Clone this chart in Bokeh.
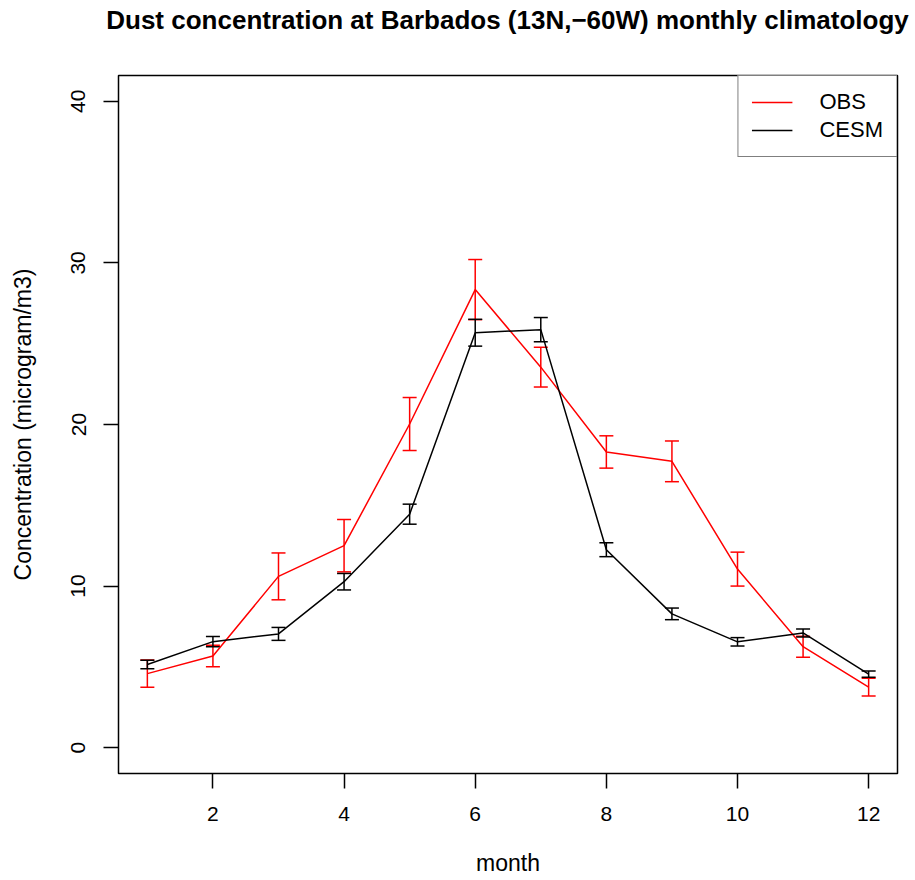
from bokeh.plotting import figure
from bokeh.layouts import column
from bokeh.models import (ColumnDataSource, Whisker, TeeHead, Legend, LegendItem,
                          Range1d, FixedTicker, Div)
from bokeh.embed import file_html
from bokeh.resources import INLINE

# ---- data ----
months = [1, 2, 3, 4, 5, 6, 7, 8, 9, 10, 11, 12]
obs = [4.58, 5.67, 10.6, 12.5, 20.03, 28.35, 23.55, 18.3, 17.72, 11.05, 6.25, 3.75]
obs_err = [0.84, 0.67, 1.45, 1.62, 1.64, 1.86, 1.23, 1.0, 1.26, 1.05, 0.65, 0.55]
cesm = [5.15, 6.56, 7.04, 10.27, 14.45, 25.68, 25.87, 12.25, 8.28, 6.55, 7.1, 4.55]
cesm_err = [0.26, 0.32, 0.4, 0.51, 0.62, 0.83, 0.75, 0.43, 0.36, 0.26, 0.25, 0.19]
x_ticks = [2, 4, 6, 8, 10, 12]
y_ticks = [0, 10, 20, 30, 40]
title_text = "Dust concentration at Barbados (13N,\u221260W) monthly climatology"

FONT = "Liberation Sans"

obs_src = ColumnDataSource(dict(x=months, y=obs,
                                upper=[v + e for v, e in zip(obs, obs_err)],
                                lower=[v - e for v, e in zip(obs, obs_err)]))
cesm_src = ColumnDataSource(dict(x=months, y=cesm,
                                 upper=[v + e for v, e in zip(cesm, cesm_err)],
                                 lower=[v - e for v, e in zip(cesm, cesm_err)]))

W = 915
TITLE_H = 40

title_div = Div(text=title_text, width=W, height=TITLE_H, margin=(0, 0, 0, 0),
                styles={"font-family": FONT, "font-size": "26px",
                        "font-weight": "bold", "color": "black",
                        "text-align": "center", "padding-left": "100px",
                        "padding-top": "5px", "box-sizing": "border-box",
                        "line-height": "30px", "white-space": "nowrap"})

p = figure(width=W, height=880 - TITLE_H, output_backend="svg", toolbar_location=None,
           x_range=Range1d(0.56, 12.44), y_range=Range1d(-1.6, 41.6),
           min_border_left=118, min_border_right=18, min_border_top=75 - TITLE_H,
           min_border_bottom=107, margin=(0, 0, 0, 0))

p.grid.visible = False
p.outline_line_color = "black"
p.outline_line_width = 1.5
p.background_fill_color = "white"
p.border_fill_color = "white"

for ax in (p.xaxis[0], p.yaxis[0]):
    ax.axis_line_color = None
    ax.major_tick_line_color = "black"
    ax.major_tick_line_width = 1.5
    ax.major_tick_out = 15
    ax.major_tick_in = 0
    ax.minor_tick_line_color = None
    ax.major_label_text_font = FONT
    ax.major_label_text_font_size = "21px"
    ax.major_label_text_color = "black"
    ax.axis_label_text_font = FONT
    ax.axis_label_text_font_size = "23px"
    ax.axis_label_text_font_style = "normal"
    ax.axis_label_text_color = "black"

p.xaxis.ticker = FixedTicker(ticks=x_ticks)
p.yaxis.ticker = FixedTicker(ticks=y_ticks)
p.xaxis.axis_label = "month"
p.yaxis.axis_label = "Concentration (microgram/m3)"
p.xaxis.major_label_standoff = 18
p.yaxis.major_label_standoff = 18
p.yaxis.major_label_orientation = "vertical"
p.xaxis.axis_label_standoff = 26
p.yaxis.axis_label_standoff = 33

# OBS (red)
obs_line = p.line("x", "y", source=obs_src, line_color="red", line_width=1.5)
p.add_layout(Whisker(source=obs_src, base="x", upper="upper", lower="lower",
                     line_color="red", line_width=1.5,
                     upper_head=TeeHead(size=14, line_color="red", line_width=1.5),
                     lower_head=TeeHead(size=14, line_color="red", line_width=1.5)))

# CESM (black)
cesm_line = p.line("x", "y", source=cesm_src, line_color="black", line_width=1.5)
p.add_layout(Whisker(source=cesm_src, base="x", upper="upper", lower="lower",
                     line_color="black", line_width=1.5,
                     upper_head=TeeHead(size=14, line_color="black", line_width=1.5),
                     lower_head=TeeHead(size=14, line_color="black", line_width=1.5)))

legend = Legend(items=[LegendItem(label="OBS", renderers=[obs_line]),
                       LegendItem(label="CESM", renderers=[cesm_line])],
                location="top_right", margin=0, padding=13, spacing=2,
                glyph_width=41, label_standoff=27, label_width=60,
                border_line_color="black", border_line_width=1.5,
                background_fill_alpha=1.0, label_text_color="black",
                label_text_font=FONT, label_text_font_size="22px")
p.add_layout(legend)

layout = column(title_div, p, spacing=0, margin=(0, 0, 0, 0))

open("out.html", "w").write(file_html(layout, INLINE))
